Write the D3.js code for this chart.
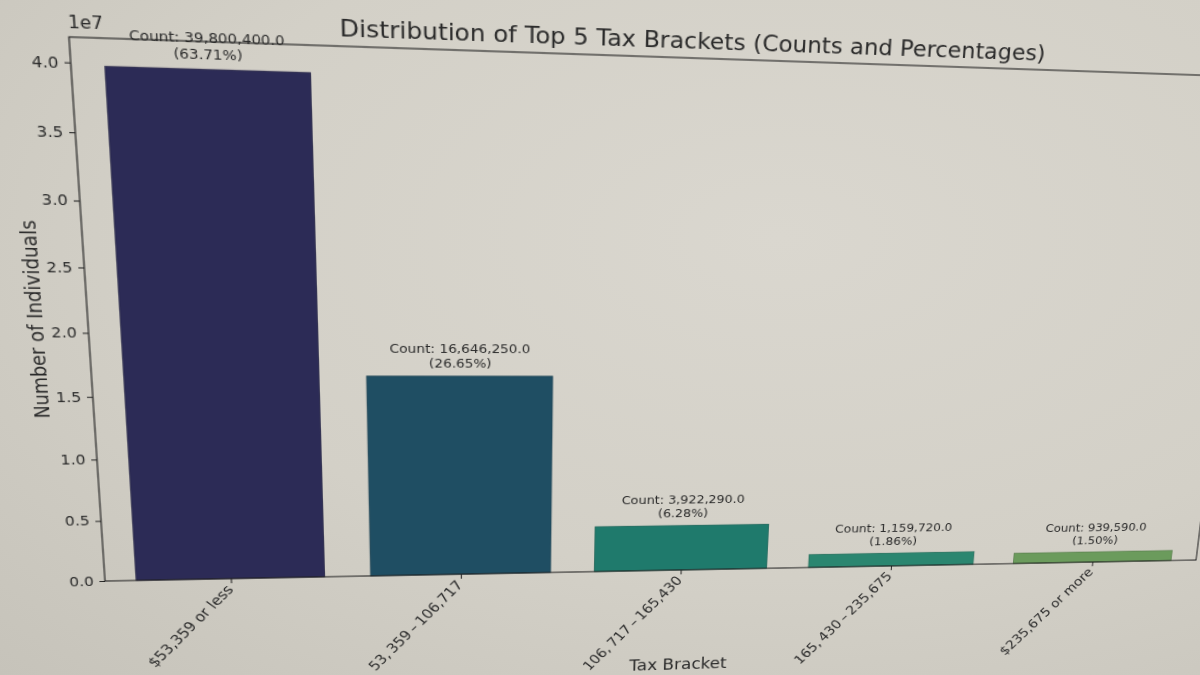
<!DOCTYPE html>
<html>
<head>
<meta charset="utf-8">
<script src="https://cdn.jsdelivr.net/npm/d3@7"></script>
<style>
  html, body { margin: 0; padding: 0; width: 1200px; height: 675px; overflow: hidden; }
  body { background: radial-gradient(ellipse at 65% 35%, #dad7cf 0%, #d3d0c7 55%, #c6c3ba 100%); }
  svg { position: absolute; left: 0; top: 0; transform-origin: 0 0; overflow: visible; }
  text { font-family: "DejaVu Sans", sans-serif; fill: #2a2a2a; }
</style>
</head>
<body>
<script>
// data
const brackets = [
  '$53,359 or less',
  '53,\u2009359\u2009\u2013\u2009106,717',
  '106,\u2009717\u2009\u2013\u2009165,430',
  '165,\u2009430\u2009\u2013\u2009235,675',
  '$235,675 or more'
];
const counts = [39800400, 16646250, 3922290, 1159720, 939590];
const percents = [63.71, 26.65, 6.28, 1.86, 1.50];
const barColors = ['#2c2b56', '#1f4e63', '#1f7a6c', '#2b8670', '#6b9b5c'];
const yTicks = [0, 5e6, 1e7, 1.5e7, 2e7, 2.5e7, 3e7, 3.5e7, 4e7];
const yMax = 41790420;

// flat chart frame (before the photo warp)
const L = 100, R = 1180, T = 50, B = 580;
// where the frame corners sit in the photo: TL, TR, BR, BL
const photoCorners = [[69, 37], [1255, 77], [1196, 560], [105, 581]];

const svg = d3.select('body')
  .append('svg')
  .attr('width', 1300)
  .attr('height', 780)
  ;

const x = d3.scaleBand()
  .domain(brackets)
  .range([L, R])
  .paddingInner(0.2)
  .paddingOuter(0.13)
  ;

const y = d3.scaleLinear()
  .domain([0, yMax])
  .range([B, T])
  ;

svg.selectAll('rect.bar')
  .data(counts)
  .enter()
  .append('rect')
  .attr('class', 'bar')
  .attr('x', (d, i) => x(brackets[i]))
  .attr('y', d => y(d))
  .attr('width', x.bandwidth())
  .attr('height', d => y(0) - y(d))
  .attr('fill', (d, i) => barColors[i])
  .attr('stroke', (d, i) => d3.color(barColors[i]).darker(0.6))
  .attr('stroke-width', 0.8)
  ;

// count / percent labels above each bar
const fmt = d3.format(',.1f');
const labels = svg.selectAll('text.val')
  .data(counts)
  .enter()
  .append('text')
  .attr('class', 'val')
  .attr('text-anchor', 'middle')
  .style('font-size', '12.5px')
  ;

labels.append('tspan')
  .attr('x', (d, i) => x(brackets[i]) + x.bandwidth() / 2)
  .attr('y', d => y(d) - 24)
  .text(d => `Count: ${fmt(d)}`)
  ;

labels.append('tspan')
  .attr('x', (d, i) => x(brackets[i]) + x.bandwidth() / 2)
  .attr('y', d => y(d) - 9)
  .text((d, i) => `(${percents[i].toFixed(2)}%)`)
  ;

// axes
const yAxis = svg.append('g')
  .attr('transform', `translate(${L},0)`)
  .call(d3.axisLeft(y).tickValues(yTicks).tickSize(5).tickPadding(5).tickFormat(d => (d / 1e7).toFixed(1)))
  ;

const xAxis = svg.append('g')
  .attr('transform', `translate(0,${B})`)
  .call(d3.axisBottom(x).tickSize(5).tickPadding(5))
  ;

[yAxis, xAxis].forEach(g => {
  g.select('.domain').remove();
  g.selectAll('line').attr('stroke', '#222');
  g.selectAll('text').style('font-family', '"DejaVu Sans", sans-serif').attr('fill', '#2a2a2a');
});
yAxis.selectAll('text').style('font-size', '13.5px');
xAxis.selectAll('text').style('font-size', '14.5px');

xAxis.selectAll('.tick text')
  .attr('text-anchor', 'end')
  .attr('y', null)
  .attr('dy', '0.75em')
  .attr('transform', 'translate(-6,5) rotate(-48)')
  ;

svg.append('rect')
  .attr('x', L)
  .attr('y', T)
  .attr('width', R - L)
  .attr('height', B - T)
  .attr('fill', 'none')
  .attr('stroke', '#222')
  .attr('stroke-width', 1.1)
  ;

svg.append('text')
  .attr('x', L)
  .attr('y', T - 8)
  .style('font-size', '15px')
  .text('1e7')
  ;

svg.append('text')
  .attr('x', (L + R) / 2 + 6)
  .attr('y', T - 9)
  .attr('text-anchor', 'middle')
  .style('font-size', '21.5px')
  .text('Distribution of Top 5 Tax Brackets (Counts and Percentages)')
  ;

svg.append('text')
  .attr('transform', `translate(${L - 38},${(T + B) / 2}) rotate(-90)`)
  .attr('text-anchor', 'middle')
  .style('font-size', '17.5px')
  .text('Number of Individuals')
  ;

svg.append('text')
  .attr('x', (L + R) / 2)
  .attr('y', B + 114)
  .attr('text-anchor', 'middle')
  .style('font-size', '17px')
  .text('Tax Bracket')
  ;

// warp the flat chart onto the tilted screen of the photo
const flatCorners = [[L, T], [R, T], [R, B], [L, B]];
const h = homography(flatCorners, photoCorners);
svg.style('transform', `matrix3d(${h[0]},${h[3]},0,${h[6]},${h[1]},${h[4]},0,${h[7]},0,0,1,0,${h[2]},${h[5]},0,1)`);

function homography(src, dst) {
  const A = [];
  const rhs = [];
  src.forEach(([sx, sy], i) => {
    const [dx, dy] = dst[i];
    A.push([sx, sy, 1, 0, 0, 0, -sx * dx, -sy * dx]);
    rhs.push(dx);
    A.push([0, 0, 0, sx, sy, 1, -sx * dy, -sy * dy]);
    rhs.push(dy);
  });
  return solve(A, rhs);
}

function solve(A, b) {
  const n = b.length;
  const M = A.map((row, i) => row.concat([b[i]]));
  for (let c = 0; c < n; c++) {
    let p = c;
    for (let r = c + 1; r < n; r++) {
      if (Math.abs(M[r][c]) > Math.abs(M[p][c])) p = r;
    }
    [M[c], M[p]] = [M[p], M[c]];
    for (let r = 0; r < n; r++) {
      if (r === c) continue;
      const f = M[r][c] / M[c][c];
      for (let k = c; k <= n; k++) M[r][k] -= f * M[c][k];
    }
  }
  return M.map((row, i) => row[n] / row[i]);
}
</script>
</body>
</html>
